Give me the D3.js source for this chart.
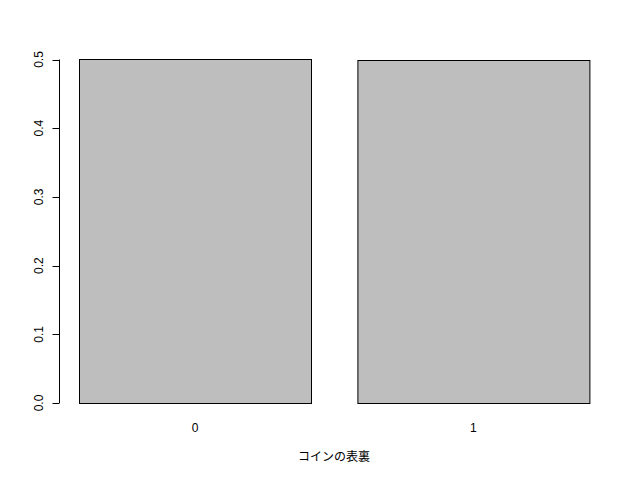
<!DOCTYPE html>
<html><head><meta charset="utf-8">
<script src="https://cdn.jsdelivr.net/npm/d3@7"></script>
<style>body{margin:0;background:#fff}</style>
</head><body>
<script>
const categories = ["0", "1"];
const values = [0.501, 0.499];
const yTicks = [0, 0.1, 0.2, 0.3, 0.4, 0.5];
const xTitle = "コインの表裏";

const W = 640, H = 480;
const svg = d3.select("body").append("svg").attr("width", W).attr("height", H);
const font = "'Liberation Sans', Arial, Helvetica, sans-serif";

// bar positions in R barplot units (space = 0.2)
const x = d3.scaleLinear().domain([0.2, 1.2]).range([79, 311]);
const y = d3.scaleLinear().domain([0, 0.5]).range([403, 59.5]);

const g = svg.append("g");
g.selectAll("rect").data(values).join("rect")
  .attr("x", (d, i) => x(0.2 + 1.2 * i) + 0.5)
  .attr("width", (d, i) => x(1.2 + 1.2 * i) - x(0.2 + 1.2 * i))
  .attr("y", d => Math.round(y(d)) + 0.5)
  .attr("height", d => y(0) - Math.round(y(d)))
  .attr("fill", "#BEBEBE").attr("stroke", "#000").attr("stroke-width", 1);

// y axis
const ya = svg.append("g").attr("transform", "translate(59.5,0)");
ya.append("line").attr("x1", 0).attr("x2", 0)
  .attr("y1", y(0)).attr("y2", y(0.5)).attr("stroke", "#000");
ya.selectAll("line.t").data(yTicks).join("line").attr("class", "t")
  .attr("x1", -7).attr("x2", 0)
  .attr("y1", d => Math.round(y(d)) + 0.5).attr("y2", d => Math.round(y(d)) + 0.5)
  .attr("stroke", "#000");
ya.selectAll("text").data(yTicks).join("text")
  .attr("transform", d => `translate(-17,${y(d)}) rotate(-90)`)
  .attr("text-anchor", "middle")
  .attr("font-family", font).attr("font-size", 12)
  .text(d => d.toFixed(1));

// x category labels
svg.selectAll("text.cat").data(categories).join("text").attr("class", "cat")
  .attr("x", (d, i) => x(0.7 + 1.2 * i))
  .attr("y", 432)
  .attr("text-anchor", "middle")
  .attr("font-family", font).attr("font-size", 12)
  .text(d => d);

svg.append("text")
  .attr("x", 334).attr("y", 461)
  .attr("text-anchor", "middle")
  .attr("font-family", "'Noto Sans CJK JP', sans-serif").attr("font-size", 12)
  .text(xTitle);
</script>
</body></html>
